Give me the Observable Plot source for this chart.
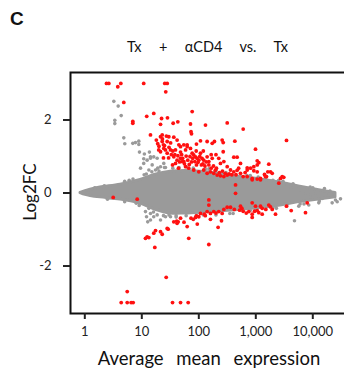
<!DOCTYPE html>
<html><head><meta charset="utf-8">
<script src="https://cdn.jsdelivr.net/npm/d3@7"></script>
<script src="https://cdn.jsdelivr.net/npm/@observablehq/plot@0.6"></script>
<style>
html,body{margin:0;padding:0;background:#fff;overflow:hidden}
#wrap{position:relative;width:344px;height:373px;overflow:hidden;font-family:Lato,"Open Sans",sans-serif;color:#111}
#chart{position:absolute;left:0;top:0;width:348px}
#chart svg{max-width:none !important;width:348px;height:373px}
.t{position:absolute;white-space:nowrap}
#panel{left:10px;top:9px;font:bold 19px "Liberation Sans",Arial,sans-serif;line-height:20px}
#title{left:70px;width:275px;text-align:center;top:38px;font-size:14.5px;line-height:18px;word-spacing:5px}
#xlab{left:70px;width:278px;text-align:center;top:347px;font-size:18.5px;line-height:22px;word-spacing:8px}
#ylab{left:30px;top:192px;font-size:17px;line-height:18px;transform:translate(-50%,-50%) rotate(-90deg)}
</style></head>
<body><div id="wrap"><div id="chart"></div>
<div class="t" id="panel">C</div>
<div class="t" id="title">Tx&nbsp; + &nbsp;αCD4 &nbsp;vs.&nbsp; Tx</div>
<div class="t" id="ylab">Log2FC</div>
<div class="t" id="xlab">Average mean expression</div>
</div>
<script>
// axis ticks
const xTicks = [1, 10, 100, 1000, 10000];
const yTicks = [-2, 0, 2];

// dense gray core of the cloud (envelope)
const bandExpr = [0.84, 1.03, 1.26, 1.88, 4.23, 9.5, 17.4, 31.9, 58, 107, 240, 539, 1209, 2713, 5680, 13640, 25000];
const bandHi   = [0.0, 0.05, 0.09, 0.15, 0.23, 0.36, 0.50, 0.58, 0.60, 0.58, 0.52, 0.44, 0.37, 0.28, 0.18, 0.07, 0.0];
const bandLo   = [0.0, -0.05, -0.08, -0.12, -0.18, -0.29, -0.46, -0.56, -0.56, -0.54, -0.50, -0.46, -0.41, -0.34, -0.25, -0.17, -0.12];

// scattered gray (non-significant) genes outside the core
const grayExpr = [3.23,3.85,4.35,3.36,3.36,4.83,5.03,6.95,7.75,8.86,8.86,9.1,11.1,13.6,14.2,10.8,9.5,10.8,12.4,14.2,16.2,18.6,15.2,13.3,17.4,21.3,24.3,
  11.6,12.1,12.7,14.2,16.2,18.6,21.3,26.1,31.9,14.2,13.3,
  14610,12740,9120,11150,7444,5680,8500,19000,25010,21880,26790,30620,4775,5900,4178,10000,
  6,8,20,30,60,60,200,200,800,800,2000,2000,3500,3500,1.5,2.5,2.2,
  12,19,26,40,45,90,150,400,1500,3000,7000,16000,
  5,7,11,15,25,35,80,130,300,700,1100,2500,4500,9000,20000,
  5,9,16,24,40,120,350,1000,2300,6000,13000];
const grayLfc  = [2.51,2.38,2.12,1.99,1.90,1.51,1.35,1.36,1.38,1.42,1.33,1.12,1.07,1.12,0.99,0.94,0.68,0.81,0.90,0.95,0.99,0.95,0.77,0.63,0.63,0.72,0.81,
  -0.51,-0.65,-0.79,-0.74,-0.65,-0.60,-0.74,-0.65,-0.65,-0.56,-0.42,
  -0.15,-0.27,-0.05,-0.01,-0.01,-0.36,-0.33,-0.05,-0.19,-0.27,-0.24,-0.16,-0.76,0.08,0.14,0.14,
  0.35,-0.28,0.6,-0.6,0.72,-0.62,0.62,-0.6,0.48,-0.48,0.35,-0.4,0.24,-0.33,0.14,-0.17,0.2,
  0.52,0.68,0.70,-0.62,0.70,-0.62,0.66,-0.56,0.42,0.32,-0.30,0.12,
  0.32,0.38,0.50,0.58,0.70,0.68,0.68,0.66,0.56,0.48,0.44,0.34,0.25,0.16,0.05,
  -0.24,-0.34,-0.52,-0.62,-0.66,-0.60,-0.56,-0.48,-0.42,-0.30,-0.22];

// significant (red) genes
const redExpr = [2.4,2.64,4.28,10.8,25.3,27.9,3.79,26.3,4.83,
  6.95,6.95,12.2,16.2,21.3,22.2,28.2,
  76.5,35.5,42.8,71.5,131,315,601,73,
  22.8,27,36.4,107,172,188,257,268,988,268,411,539,707,923,1059,
  3457,1130,1059,923,1690,1624,1421,1541,2904,3098,2713,1059,1209,865,2535,
  14.2,21.3,22.8,27.9,29.8,19.8,21.3,24.3,27.9,31.9,36.4,41.6,47.8,39,54.6,62.5,71.5,58.6,81.5,93,107,122,140,150,44.7,41.6,74.5,140,
  429,91,62.5,54.6,47.8,470,1059,810,707,
  76.5,87.6,100,114,150,172,224,240,275,315,360,411,500,539,707,865,1209,1472,51.2,58.6,66.6,81.5,100,183,210,240,275,315,122,140,160,1810,1941,
  24,32,39,47.8,29.5,34.6,44,24,60,74.5,91,111,181,204,
  18,19,20,23,25,26,30,33,35,38,43,46,50,52,56,64,68,70,78,85,97,104,118,128,135,165,195,230,260,290,340,380,450,600,650,470,90,120,165,200,
  3.15,8.3,441,441,150,150,
  7976,7444,4178,3457,2218,1941,1810,1690,1295,1130,1059,865,865,754,988,865,539,520,570,360,315,275,257,224,183,160,140,125,107,100,87.6,73,250,218,160,94,150,62.5,66.6,1209,1295,
  600,680,950,1500,420,200,130,80,55,
  41,43.5,36.4,47.8,41.6,91,27.9,29,21.3,22.8,17.4,16.2,12.4,13.3,11.6,16.9,26.8,5.55,
  4.35,5.55,6.5,7.05,34.6,47.8,65.1];
const redLfc = [3,3,3,3,3,3,2.91,2.77,2.48,
  1.96,1.91,2.10,2.18,1.88,2.04,2.06,
  2.23,1.91,1.95,1.89,1.86,1.92,1.75,1.68,
  1.59,1.56,1.53,1.43,1.36,1.41,1.45,1.38,1.20,1.13,0.98,0.81,0.69,0.61,0.58,
  1.44,0.83,0.77,0.72,0.79,0.58,0.51,0.45,0.45,0.43,0.40,0.38,0.36,0.36,0.27,
  1.59,1.54,1.41,1.41,1.54,1.18,1.13,1.22,1.09,1.18,0.99,0.90,0.95,0.81,0.86,1.32,1.22,1.18,1.04,0.95,1.09,0.90,0.99,0.77,1.32,1.45,1.62,1.41,
  1.42,1.34,1.27,1.32,1.27,0.98,0.88,0.68,0.63,
  1.09,0.99,0.90,0.95,0.86,0.95,0.95,0.81,0.86,0.72,0.63,0.58,0.68,0.54,0.45,0.40,0.40,0.45,0.86,0.72,0.68,0.63,0.58,0.54,0.49,0.47,0.45,0.49,0.63,0.54,0.58,0.58,0.54,
  1.32,1.37,1.18,1.12,0.96,0.77,0.68,0.96,1.01,0.85,0.77,0.77,0.74,0.68,
  1.45,1.35,1.28,1.48,1.30,1.18,1.25,1.05,1.15,1.05,1.02,0.85,1.05,0.95,0.80,0.90,0.78,1.00,0.95,0.86,0.84,1.00,0.80,0.74,0.85,0.68,0.62,0.56,0.60,0.54,0.52,0.50,0.50,0.45,0.56,0.62,1.15,1.15,1.05,1.05,
  -0.12,-0.17,-0.01,0.22,-0.19,-0.33,
  -0.27,-0.54,-0.48,-0.36,-0.58,-0.45,-0.38,-0.33,-0.58,-0.54,-0.48,-0.67,-0.58,-0.51,-0.36,-0.27,-0.36,-0.47,-0.42,-0.39,-0.39,-0.45,-0.56,-0.51,-0.51,-0.56,-0.51,-0.58,-0.56,-0.65,-0.67,-0.69,-0.76,-0.94,-0.72,-0.85,-1.41,-0.92,-1.24,-0.36,-0.42,
  -0.50,-0.55,-0.50,-0.45,-0.45,-0.55,-0.62,-0.72,-0.80,
  -0.77,-0.79,-0.79,-0.69,-0.83,-0.63,-0.97,-0.99,-1.06,-1.13,-1.03,-1.10,-1.20,-1.22,-1.24,-1.49,-2.31,-2.70,
  -3,-3,-3,-3,-3,-3,-3];

const band = bandExpr.map((x, i) => ({x, lo: bandLo[i], hi: bandHi[i]}));
const gray = grayExpr.map((x, i) => ({x, y: grayLfc[i]}));
const red = redExpr.map((x, i) => ({x, y: redLfc[i]}));

const GRAY = "#9a9a9a", RED = "#ff1010";
const chart = Plot.plot({
  width: 348, height: 373,
  marginLeft: 70, marginRight: 0, marginTop: 72, marginBottom: 60,
  style: {fontFamily: "Lato, 'Open Sans', sans-serif", fontSize: "12px", color: "#222", background: "transparent"},
  x: {type: "log", domain: [0.561, 42300]},
  y: {domain: [-3.3, 3.3]},
  marks: [
    Plot.areaY(band, {x: "x", y1: "lo", y2: "hi", fill: GRAY, stroke: GRAY, strokeWidth: 3, curve: "catmull-rom"}),
    Plot.dot(gray, {x: "x", y: "y", r: 1.8, fill: GRAY}),
    Plot.dot(red, {x: "x", y: "y", r: 1.9, fill: RED}),
    Plot.frame({stroke: "#111", strokeWidth: 2}),
    Plot.axisX(xTicks, {tickSize: 6, tickPadding: 7, strokeWidth: 2, stroke: "#222", tickFormat: d3.format(","), label: null, fontSize: 13}),
    Plot.axisY(yTicks, {tickSize: 7, tickPadding: 12, strokeWidth: 2, stroke: "#222", tickFormat: d => String(d), label: null, fontSize: 13})
  ]
});
document.getElementById("chart").appendChild(chart);
</script>
</body></html>
